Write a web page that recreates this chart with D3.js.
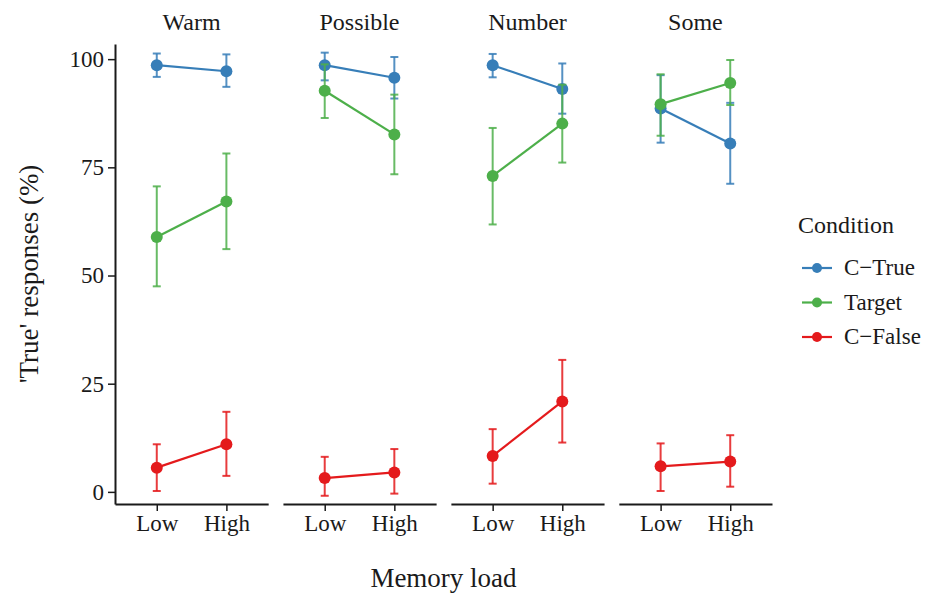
<!DOCTYPE html>
<html>
<head>
<meta charset="utf-8">
<script src="https://cdn.jsdelivr.net/npm/d3@7"></script>
<style>
  body { margin: 0; background: #fff; }
  svg text { font-family: "Liberation Serif", "Times New Roman", Times, Tinos, "DejaVu Serif", "Noto Serif", serif; fill: #1a1a1a; }
</style>
</head>
<body>
<div id="container"></div>
<script>
const panels = ["Warm", "Possible", "Number", "Some"];
const loads = ["Low", "High"];
const conditions = ["C\u2212True", "Target", "C\u2212False"];
const colors = ["#377EB8", "#4DAF4A", "#E41A1C"];
const yTicks = [0, 25, 50, 75, 100];

// [panel][load] : mean, lower, upper
const ctrueMean = [[98.6, 97.2], [98.6, 95.7], [98.6, 93.1], [88.6, 80.5]];
const ctrueLow  = [[95.9, 93.6], [95.1, 90.9], [95.8, 87.4], [80.7, 71.2]];
const ctrueHigh = [[101.3, 101.1], [101.5, 100.5], [101.2, 99.0], [96.3, 89.9]];

const targetMean = [[58.9, 67.1], [92.7, 82.6], [73.0, 85.1], [89.6, 94.5]];
const targetLow  = [[47.5, 56.1], [86.4, 73.4], [61.8, 76.1], [82.3, 89.4]];
const targetHigh = [[70.6, 78.2], [98.8, 91.8], [84.1, 94.1], [96.5, 99.8]];

const cfalseMean = [[5.6, 11.0], [3.2, 4.5], [8.3, 20.9], [5.9, 7.0]];
const cfalseLow  = [[0.2, 3.7], [-0.9, -0.4], [1.9, 11.4], [0.2, 1.2]];
const cfalseHigh = [[11.0, 18.5], [8.1, 9.9], [14.5, 30.5], [11.2, 13.1]];

const means = [ctrueMean, targetMean, cfalseMean];
const lows = [ctrueLow, targetLow, cfalseLow];
const highs = [ctrueHigh, targetHigh, cfalseHigh];

const w = 930, h = 597;

const svg = d3.select("#container").append("svg")
  .attr("width", w).attr("height", h);

const panelScale = d3.scaleBand().domain(panels).range([115, 772]).paddingInner(0.088);
const bw = panelScale.bandwidth();
const loadScale = d3.scalePoint().domain(loads).range([0, bw]).padding(0.6);
const y = d3.scaleLinear().domain([-2.8, 103.5]).range([504, 44]);

// y axis (first panel only)
const yAxis = svg.append("g")
  .attr("transform", "translate(" + panelScale(panels[0]) + ",0)")
  .call(d3.axisLeft(y).tickValues(yTicks).tickSize(7).tickSizeOuter(0).tickPadding(4));
yAxis.attr("font-family", null);
yAxis.select(".domain").attr("stroke", "#1a1a1a").attr("stroke-width", 2);
yAxis.selectAll(".tick line").attr("stroke", "#1a1a1a").attr("stroke-width", 1.5);
yAxis.selectAll(".tick text").attr("font-size", "23px").attr("fill", "#1a1a1a");

panels.forEach((p, pi) => {
  const g = svg.append("g").attr("transform", "translate(" + panelScale(p) + ",0)");

  const xAxis = g.append("g")
    .attr("transform", "translate(0," + y.range()[0] + ")")
    .call(d3.axisBottom(loadScale).tickSize(7).tickSizeOuter(0).tickPadding(4));
  xAxis.attr("font-family", null);
  xAxis.select(".domain").attr("stroke", "#1a1a1a").attr("stroke-width", 2);
  xAxis.selectAll(".tick line").attr("stroke", "#1a1a1a").attr("stroke-width", 1.5);
  xAxis.selectAll(".tick text").attr("font-size", "23px").attr("fill", "#1a1a1a");

  g.append("text")
    .attr("x", bw / 2).attr("y", 30)
    .attr("text-anchor", "middle")
    .attr("font-size", "24px")
    .text(p);

  conditions.forEach((c, ci) => {
    const pts = loads.map((l, li) => ({
      x: loadScale(l),
      m: means[ci][pi][li],
      lo: lows[ci][pi][li],
      hi: highs[ci][pi][li]
    }));
    const col = colors[ci];

    // error bars
    const eb = g.append("g").attr("stroke", col).attr("stroke-width", 2).attr("stroke-opacity", 0.85);
    pts.forEach(d => {
      eb.append("line").attr("x1", d.x).attr("x2", d.x).attr("y1", y(d.lo)).attr("y2", y(d.hi));
      eb.append("line").attr("x1", d.x - 4).attr("x2", d.x + 4).attr("y1", y(d.lo)).attr("y2", y(d.lo));
      eb.append("line").attr("x1", d.x - 4).attr("x2", d.x + 4).attr("y1", y(d.hi)).attr("y2", y(d.hi));
    });

    g.append("path")
      .datum(pts)
      .attr("fill", "none")
      .attr("stroke", col)
      .attr("stroke-width", 2.2)
      .attr("d", d3.line().x(d => d.x).y(d => y(d.m)));

    g.selectAll(null).data(pts).enter().append("circle")
      .attr("cx", d => d.x).attr("cy", d => y(d.m))
      .attr("r", 6)
      .attr("fill", col);
  });
});

// axis titles
svg.append("text")
  .attr("x", (panelScale.range()[0] + panelScale.range()[1]) / 2).attr("y", 587)
  .attr("text-anchor", "middle")
  .attr("font-size", "27px")
  .text("Memory load");

svg.append("text")
  .attr("transform", "translate(38," + (y.range()[0] + y.range()[1]) / 2 + ") rotate(-90)")
  .attr("text-anchor", "middle")
  .attr("font-size", "27px")
  .text("'True' responses (%)");

// legend
const legend = svg.append("g").attr("transform", "translate(798,0)");
legend.append("text").attr("x", 0).attr("y", 233).attr("font-size", "24px").text("Condition");
conditions.forEach((c, i) => {
  const ly = 268 + i * 34.5;
  legend.append("line").attr("x1", 4).attr("x2", 34).attr("y1", ly).attr("y2", ly)
    .attr("stroke", colors[i]).attr("stroke-width", 2.2);
  legend.append("circle").attr("cx", 19).attr("cy", ly).attr("r", 5).attr("fill", colors[i]);
  legend.append("text").attr("x", 46).attr("y", ly + 7).attr("font-size", "23px").text(c);
});
</script>
</body>
</html>
